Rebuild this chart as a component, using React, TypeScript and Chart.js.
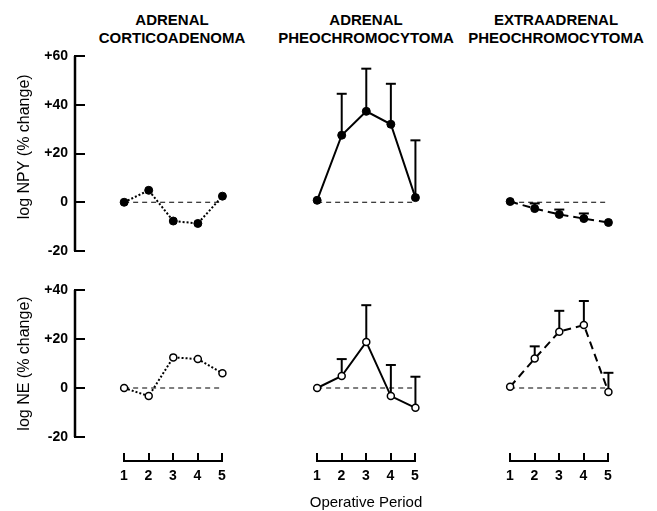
import React, { useEffect, useRef } from 'react';
import { Chart, registerables } from 'chart.js';

Chart.register(...registerables);

// ---------- data ----------
const periods = [1, 2, 3, 4, 5];

const groupTitles = [
  ['ADRENAL', 'CORTICOADENOMA'],
  ['ADRENAL', 'PHEOCHROMOCYTOMA'],
  ['EXTRAADRENAL', 'PHEOCHROMOCYTOMA'],
];
const yTitles = ['log NPY (% change)', 'log NE (% change)'];
const xTitle = 'Operative Period';

const npyRange = [-20, 60];
const neRange = [-20, 40];
const yStep = 20;

// NPY (top row)
const npyCortico = [0, 4.9, -7.7, -8.7, 2.5];
const npyAdrenalPheo = [0.8, 27.5, 37.3, 32, 1.9];
const npyAdrenalPheoErr = [0, 17, 17.5, 16.6, 23.5];
const npyExtraPheo = [0.3, -2.6, -5.0, -6.7, -8.3];
const npyExtraPheoErr = [0, 2.1, 2.0, 2.1, 0];

// NE (bottom row)
const neCortico = [0, -3.3, 12.5, 11.8, 6];
const neAdrenalPheo = [0, 4.9, 18.8, -3.3, -8.1];
const neAdrenalPheoErr = [0, 6.9, 15, 12.7, 12.7];
const neExtraPheo = [0.5, 12, 23, 25.7, -1.6];
const neExtraPheoErr = [0, 5, 8.5, 9.8, 7.8];

const noErr = [0, 0, 0, 0, 0];

// ---------- layout / style ----------
const FONT = "'Liberation Sans', Arial, Helvetica, sans-serif";
Chart.defaults.font.family = FONT;
Chart.defaults.color = '#000';

const COL_LEFT = [75, 268, 461]; // chart-area left of each column
const PLOT_W = 172;
const X_MIN = -1;
const X_MAX = 6;
const ROW_TOP = [56, 290];
const ROW_H = [195, 147];
const PAD = 12;
const Y_AXIS_W = 75;
const DASHES = [[2, 2], [], [8, 5]];
const Y_TITLE_LEAD = ['   ', ''];
const INK = 'rgb(0,0,0)';

type PanelProps = {
  row: number;
  col: number;
  values: number[];
  errs: number[];
  range: number[];
};

function Panel({ row, col, values, errs, range }: PanelProps) {
  const ref = useRef<HTMLCanvasElement | null>(null);
  const withAxis = col === 0;
  const left = withAxis ? 0 : COL_LEFT[col] - PAD;
  const width = withAxis ? Y_AXIS_W + PLOT_W + PAD : PLOT_W + 2 * PAD;
  const top = ROW_TOP[row] - PAD;
  const height = ROW_H[row] + 2 * PAD;

  useEffect(() => {
    if (!ref.current) return;
    const filled = row === 0;
    const datasets: any[] = [];
    datasets.push({
      data: periods.map((p, i) => ({ x: p, y: values[i] })),
      borderColor: INK,
      borderWidth: 2,
      borderDash: DASHES[col],
      pointRadius: filled ? 4 : 3.5,
      pointBackgroundColor: filled ? INK : '#fff',
      pointBorderColor: INK,
      pointBorderWidth: filled ? 1 : 1.5,
      tension: 0,
      clip: false,
    });
    periods.forEach((p, i) => {
      if (errs[i] > 0) {
        datasets.push({
          data: [
            { x: p, y: values[i] },
            { x: p, y: values[i] + errs[i] },
          ],
          borderColor: INK,
          borderWidth: 2,
          pointRadius: [0, 5],
          pointStyle: 'line',
          pointBorderColor: INK,
          pointBorderWidth: 2,
          clip: false,
        });
      }
    });
    datasets.push({
      data: [
        { x: periods[0], y: 0 },
        { x: periods[periods.length - 1], y: 0 },
      ],
      borderColor: INK,
      borderWidth: 1.2,
      borderDash: [5, 4],
      pointRadius: 0,
      clip: false,
    });

    const yScale: any = {
      type: 'linear',
      min: range[0],
      max: range[1],
      display: withAxis,
    };
    if (withAxis) {
      Object.assign(yScale, {
        afterFit: (s: any) => {
          s.width = Y_AXIS_W;
          s.paddingTop = 0;
          s.paddingBottom = 0;
        },
        ticks: {
          stepSize: yStep,
          font: { weight: 'bold', size: 14 },
          color: INK,
          padding: 17,
          callback: (v: any) => (Number(v) > 0 ? '+' + v : String(v)),
        },
        grid: {
          drawOnChartArea: false,
          tickLength: -10,
          lineWidth: 2,
          color: INK,
        },
        border: { display: true, width: 2, color: INK },
        title: {
          display: true,
          text: Y_TITLE_LEAD[row] + yTitles[row],
          font: { size: 16 },
          color: INK,
          padding: { top: 15, bottom: 0 },
        },
      });
    }
    const chart = new Chart(ref.current, {
      type: 'line',
      data: { datasets },
      options: {
        responsive: false,
        maintainAspectRatio: false,
        animation: false,
        events: [],
        layout: {
          padding: { left: withAxis ? 0 : PAD, right: PAD, top: PAD, bottom: PAD },
        },
        plugins: { legend: { display: false }, tooltip: { enabled: false } },
        scales: {
          x: { type: 'linear', min: X_MIN, max: X_MAX, display: false },
          y: yScale,
        },
      } as any,
    });
    return () => chart.destroy();
  }, [row, col, values, errs, range]);

  return (
    <canvas
      ref={ref}
      width={width}
      height={height}
      style={{ position: 'absolute', left, top, width, height }}
    />
  );
}

// vertical y-axis line of the left column, drawn on its own small canvas on top
function AxisLine({ row, range }: { row: number; range: number[] }) {
  const ref = useRef<HTMLCanvasElement | null>(null);
  const side = 5;
  const left = COL_LEFT[0] - 10 - side;
  const width = 20 + 2 * side;
  const top = ROW_TOP[row] - PAD;
  const height = ROW_H[row] + 2 * PAD;

  useEffect(() => {
    if (!ref.current) return;
    let chart: any = null;
    try {
      chart = new Chart(ref.current, {
        type: 'line',
        data: {
          datasets: [
            {
              data: [
                { x: 1, y: range[0] },
                { x: 1, y: range[1] },
              ],
              borderColor: INK,
              borderWidth: 2.5,
              pointRadius: 0,
              clip: false,
            },
          ],
        },
        options: {
          responsive: false,
          maintainAspectRatio: false,
          animation: false,
          events: [],
          layout: { padding: { left: side, right: side, top: PAD, bottom: PAD } },
          plugins: { legend: { display: false }, tooltip: { enabled: false } },
          scales: {
            x: { type: 'linear', min: 0, max: 2, display: false },
            y: { type: 'linear', min: range[0], max: range[1], display: false },
          },
        } as any,
      });
    } catch (e) {
      chart = null;
    }
    return () => {
      if (chart) chart.destroy();
    };
  }, [row, range]);

  return (
    <canvas
      ref={ref}
      width={width}
      height={height}
      style={{ position: 'absolute', left, top, width, height }}
    />
  );
}

function XAxis({ col }: { col: number }) {
  const ref = useRef<HTMLCanvasElement | null>(null);
  const unit = PLOT_W / (X_MAX - X_MIN);
  const x1 = Math.round(COL_LEFT[col] + (periods[0] - X_MIN) * unit);
  const side = 20;
  const left = x1 - side;
  const width = 98 + 2 * side;
  const top = 441;
  const height = 50;

  useEffect(() => {
    if (!ref.current) return;
    const chart = new Chart(ref.current, {
      type: 'line',
      data: { datasets: [] },
      options: {
        responsive: false,
        maintainAspectRatio: false,
        animation: false,
        events: [],
        layout: { padding: { left: side, right: side, top: 10, bottom: 0 } },
        plugins: { legend: { display: false }, tooltip: { enabled: false } },
        scales: {
          x: {
            type: 'linear',
            min: periods[0],
            max: periods[periods.length - 1],
            position: 'bottom',
            afterFit: (s: any) => {
              s.height = 30;
            },
            ticks: {
              stepSize: 1,
              autoSkip: false,
              maxRotation: 0,
              font: { weight: 'bold', size: 14 },
              color: INK,
              padding: 15,
            },
            grid: {
              drawOnChartArea: false,
              tickLength: -8,
              lineWidth: 2,
              color: INK,
            },
            border: { display: true, width: 2, color: INK },
          },
          y: { display: false, min: 0, max: 1 },
        },
      } as any,
    });
    return () => chart.destroy();
  }, [col]);

  return (
    <canvas
      ref={ref}
      width={width}
      height={height}
      style={{ position: 'absolute', left, top, width, height }}
    />
  );
}

const TITLE_CENTERS = [172, 366, 556];

export default function App() {
  const top = [
    { values: npyCortico, errs: noErr },
    { values: npyAdrenalPheo, errs: npyAdrenalPheoErr },
    { values: npyExtraPheo, errs: npyExtraPheoErr },
  ];
  const bottom = [
    { values: neCortico, errs: noErr },
    { values: neAdrenalPheo, errs: neAdrenalPheoErr },
    { values: neExtraPheo, errs: neExtraPheoErr },
  ];
  return (
    <div
      style={{
        position: 'absolute',
        left: 0,
        top: 0,
        width: 657,
        height: 511,
        background: '#fff',
        fontFamily: FONT,
      }}
    >
      {groupTitles.map((lines, c) => (
        <div
          key={'t' + c}
          style={{
            position: 'absolute',
            left: TITLE_CENTERS[c] - 90,
            width: 180,
            top: 11,
            height: 36,
            textAlign: 'center',
            fontWeight: 'bold',
            fontSize: 15,
            lineHeight: '18px',
            color: '#000',
          }}
        >
          {lines.map((l, i) => (
            <div key={i}>{l}</div>
          ))}
        </div>
      ))}
      {top.map((d, c) => (
        <Panel key={'a' + c} row={0} col={c} values={d.values} errs={d.errs} range={npyRange} />
      ))}
      {bottom.map((d, c) => (
        <Panel key={'b' + c} row={1} col={c} values={d.values} errs={d.errs} range={neRange} />
      ))}
      {[0, 1, 2].map((c) => (
        <XAxis key={'x' + c} col={c} />
      ))}
      <AxisLine row={0} range={npyRange} />
      <AxisLine row={1} range={neRange} />
      <div
        style={{
          position: 'absolute',
          left: 366 - 80,
          width: 160,
          top: 493,
          textAlign: 'center',
          fontSize: 15,
          lineHeight: '18px',
          color: '#000',
        }}
      >
        {xTitle}
      </div>
    </div>
  );
}
